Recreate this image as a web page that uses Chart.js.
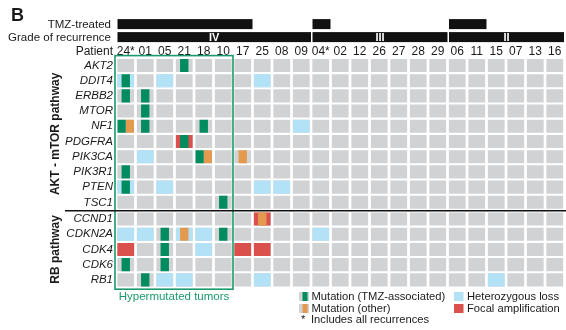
<!DOCTYPE html>
<html>
<head>
<meta charset="utf-8">
<script src="https://cdn.jsdelivr.net/npm/chart.js@4.4.0/dist/chart.umd.min.js"></script>
<style>
  html, body { margin: 0; padding: 0; background: #fff; }
  #wrap { width: 566px; height: 330px; }
</style>
</head>
<body>
<div id="wrap"><canvas id="chart" width="566" height="330"></canvas></div>
<script>
// Patients (columns) and their annotations
const patients = ['24*', '01', '05', '21', '18', '10', '17', '25', '08', '09',
                  '04*', '02', '12', '26', '27', '28', '29',
                  '06', '11', '15', '07', '13', '16'];
const tmzTreated = [1, 1, 1, 1, 1, 1, 1, 0, 0, 0,
                    1, 0, 0, 0, 0, 0, 0,
                    1, 1, 0, 0, 0, 0];
const grades = ['IV', 'IV', 'IV', 'IV', 'IV', 'IV', 'IV', 'IV', 'IV', 'IV',
                'III', 'III', 'III', 'III', 'III', 'III', 'III',
                'II', 'II', 'II', 'II', 'II', 'II'];
const hypermutated = ['24*', '01', '05', '21', '18', '10'];

// Genes (rows)
const aktGenes = ['AKT2', 'DDIT4', 'ERBB2', 'MTOR', 'NF1', 'PDGFRA', 'PIK3CA', 'PIK3R1', 'PTEN', 'TSC1'];
const rbGenes = ['CCND1', 'CDKN2A', 'CDK4', 'CDK6', 'RB1'];

// Alterations: [patient, gene]
const hetLoss = [
  ['24*', 'DDIT4'], ['05', 'DDIT4'], ['25', 'DDIT4'], ['09', 'NF1'], ['01', 'PIK3CA'],
  ['24*', 'PTEN'], ['05', 'PTEN'], ['25', 'PTEN'], ['08', 'PTEN'],
  ['24*', 'CDKN2A'], ['01', 'CDKN2A'], ['21', 'CDKN2A'], ['18', 'CDKN2A'], ['04*', 'CDKN2A'],
  ['18', 'CDK4'], ['05', 'RB1'], ['21', 'RB1'], ['25', 'RB1'], ['15', 'RB1']
];
const focalAmp = [
  ['21', 'PDGFRA'], ['25', 'CCND1'], ['24*', 'CDK4'], ['17', 'CDK4'], ['25', 'CDK4']
];
const mutTMZ = [
  ['21', 'AKT2'], ['24*', 'DDIT4'], ['24*', 'ERBB2'], ['01', 'ERBB2'], ['01', 'MTOR'],
  ['24*', 'NF1'], ['01', 'NF1'], ['18', 'NF1'], ['21', 'PDGFRA'], ['18', 'PIK3CA'],
  ['24*', 'PIK3R1'], ['24*', 'PTEN'], ['10', 'TSC1'], ['05', 'CDKN2A'], ['10', 'CDKN2A'],
  ['05', 'CDK4'], ['24*', 'CDK6'], ['05', 'CDK6'], ['01', 'RB1']
];
const mutOther = [
  ['24*', 'NF1'], ['18', 'PIK3CA'], ['17', 'PIK3CA'], ['25', 'CCND1'], ['21', 'CDKN2A']
];

const GRAY = '#d1d2d4', BLUE = '#b3e2f6', RED = '#d9504c', GREEN = '#008c5e', ORANGE = '#e39a4e';
const BOX_GREEN = '#1b9a6b', INK = '#1a1a1a';
const FONT = "'Liberation Sans', Arial, sans-serif";

// row positions on the y scale (small extra gap between the two pathways)
const genes = aktGenes.concat(rbGenes);
const rowValues = aktGenes.map((g, i) => i).concat(rbGenes.map((g, i) => 10.1 + i));
const rowOf = {};
genes.forEach((g, i) => { rowOf[g] = rowValues[i]; });

const HALF = 0.43;
const key = ([p, g]) => p + '|' + g;
const otherKeys = new Set(mutOther.map(key));
const pairs = mutTMZ.filter(c => otherKeys.has(key(c)));
const pairKeys = new Set(pairs.map(key));

function cells(list) {
  return list.map(([p, g]) => ({ x: p, y: [rowOf[g] - HALF, rowOf[g] + HALF] }));
}

const allCells = [];
genes.forEach(g => patients.forEach(p => allCells.push([p, g])));

// lower "order" is drawn on top
const full = { grouped: false, categoryPercentage: 1, barPercentage: 0.86, borderWidth: 0 };
const thin = { grouped: false, categoryPercentage: 1, barPercentage: 0.43, borderWidth: 0, order: 2 };
const pair = { grouped: true, categoryPercentage: 0.84, barPercentage: 1, borderWidth: 0, order: 1 };

const datasets = [
  { label: 'pair TMZ', data: cells(pairs), backgroundColor: GREEN, ...pair },
  { label: 'pair other', data: cells(pairs), backgroundColor: ORANGE, ...pair },
  { label: 'Mutation (TMZ-associated)', data: cells(mutTMZ.filter(c => !pairKeys.has(key(c)))), backgroundColor: GREEN, ...thin },
  { label: 'Mutation (other)', data: cells(mutOther.filter(c => !pairKeys.has(key(c)))), backgroundColor: ORANGE, ...thin },
  { label: 'Heterozygous loss', data: cells(hetLoss), backgroundColor: BLUE, ...full, order: 3 },
  { label: 'Focal amplification', data: cells(focalAmp), backgroundColor: RED, ...full, order: 3 },
  { label: 'none', data: cells(allCells), backgroundColor: GRAY, ...full, order: 4 }
];

// header rows, pathway labels, box and legend
const overlay = {
  id: 'overlay',
  afterDraw(chart) {
    const { ctx, chartArea: a, scales: { x, y } } = chart;
    const pitch = x.getPixelForValue(1) - x.getPixelForValue(0);
    const edge = i => x.getPixelForValue(0) - pitch / 2 + i * pitch;
    ctx.save();

    // panel letter
    ctx.fillStyle = INK;
    ctx.font = 'bold 18px ' + FONT;
    ctx.textAlign = 'left';
    ctx.textBaseline = 'alphabetic';
    ctx.fillText('B', 11, 21);

    // header labels
    ctx.font = '11.5px ' + FONT;
    ctx.textAlign = 'right';
    ctx.textBaseline = 'middle';
    ctx.fillText('TMZ-treated', 111, a.top - 32.5);
    ctx.fillText('Grade of recurrence', 111, a.top - 19.5);
    ctx.font = '12px ' + FONT;
    ctx.fillText('Patient', 113, a.top - 5.7);

    // TMZ runs
    ctx.fillStyle = '#111';
    let i = 0;
    while (i < patients.length) {
      if (tmzTreated[i]) {
        let j = i;
        while (j + 1 < patients.length && tmzTreated[j + 1]) j++;
        ctx.fillRect(edge(i) + 1.5, a.top - 38, edge(j + 1) - edge(i) - 1.5, 10);
        i = j + 1;
      } else i++;
    }
    // grade runs
    i = 0;
    while (i < patients.length) {
      let j = i;
      while (j + 1 < patients.length && grades[j + 1] === grades[i]) j++;
      const x0 = edge(i) + 1.5, x1 = Math.min(edge(j + 1), a.right - 0.5);
      ctx.fillStyle = '#111';
      ctx.fillRect(x0, a.top - 25, x1 - x0, 10);
      ctx.fillStyle = '#fff';
      ctx.font = 'bold 11px ' + FONT;
      ctx.textAlign = 'center';
      ctx.fillText(grades[i], (x0 + x1) / 2, a.top - 19.5);
      i = j + 1;
    }

    // pathway labels
    ctx.fillStyle = INK;
    ctx.font = 'bold 12px ' + FONT;
    ctx.textAlign = 'center';
    const vlabel = (t, v) => {
      ctx.save();
      ctx.translate(56, y.getPixelForValue(v));
      ctx.rotate(-Math.PI / 2);
      ctx.fillText(t, 0, 0);
      ctx.restore();
    };
    vlabel('AKT - mTOR pathway', 4.5);
    vlabel('RB pathway', 12.1);

    // hypermutated box
    const bx0 = edge(0) - 1, bx1 = edge(hypermutated.length);
    ctx.strokeStyle = BOX_GREEN;
    ctx.lineWidth = 1.6;
    ctx.strokeRect(bx0, a.top - 1.5, bx1 - bx0, a.bottom - a.top + 2.5);
    ctx.fillStyle = BOX_GREEN;
    ctx.font = '11.5px ' + FONT;
    ctx.fillText('Hypermutated tumors', (bx0 + bx1) / 2, a.bottom + 9);

    // pathway separator
    const sy = y.getPixelForValue(9.55);
    ctx.strokeStyle = '#111';
    ctx.lineWidth = 1.5;
    ctx.beginPath();
    ctx.moveTo(65, sy);
    ctx.lineTo(566, sy);
    ctx.stroke();

    // legend
    ctx.font = '11.2px ' + FONT;
    ctx.textAlign = 'left';
    const mutIcon = (x0, y0, col) => {
      ctx.fillStyle = GRAY;
      ctx.fillRect(x0, y0, 10, 9);
      ctx.fillStyle = col;
      ctx.fillRect(x0 + 3.5, y0, 5, 9);
    };
    mutIcon(299, 292, GREEN);
    mutIcon(299, 304, ORANGE);
    ctx.fillStyle = BLUE;
    ctx.fillRect(454, 292, 9.5, 9);
    ctx.fillStyle = RED;
    ctx.fillRect(454, 304, 9.5, 9);
    ctx.fillStyle = INK;
    ctx.fillText('Mutation (TMZ-associated)', 311.5, 296.8);
    ctx.fillText('Mutation (other)', 311.5, 308.8);
    ctx.fillText('*', 301, 320);
    ctx.fillText('Includes all recurrences', 311, 319.5);
    ctx.fillText('Heterozygous loss', 467, 296.8);
    ctx.fillText('Focal amplification', 467, 308.8);
    ctx.restore();
  }
};

new Chart(document.getElementById('chart'), {
  type: 'bar',
  data: { labels: patients, datasets: datasets },
  options: {
    responsive: false,
    animation: false,
    devicePixelRatio: 1,
    layout: { padding: { left: 60, right: 1.5, top: 45.1, bottom: 41.8 } },
    plugins: { legend: { display: false }, tooltip: { enabled: false } },
    scales: {
      x: {
        type: 'category',
        position: 'top',
        offset: true,
        grid: { display: false, drawTicks: false },
        border: { display: false },
        ticks: { color: INK, font: { family: FONT, size: 12 }, padding: -1.5, autoSkip: false, maxRotation: 0 },
        afterFit: s => { s.height = 12; }
      },
      y: {
        type: 'linear',
        reverse: true,
        min: -0.55,
        max: 14.65,
        grid: { display: false, drawTicks: false },
        border: { display: false },
        afterBuildTicks: s => { s.ticks = rowValues.map(v => ({ value: v })); },
        ticks: {
          callback: (v, i) => genes[i],
          color: INK,
          font: { family: FONT, size: 11.5, style: 'italic' },
          padding: 3,
          autoSkip: false
        },
        afterFit: s => { s.width = 56; }
      }
    }
  },
  plugins: [overlay]
});
</script>
</body>
</html>
